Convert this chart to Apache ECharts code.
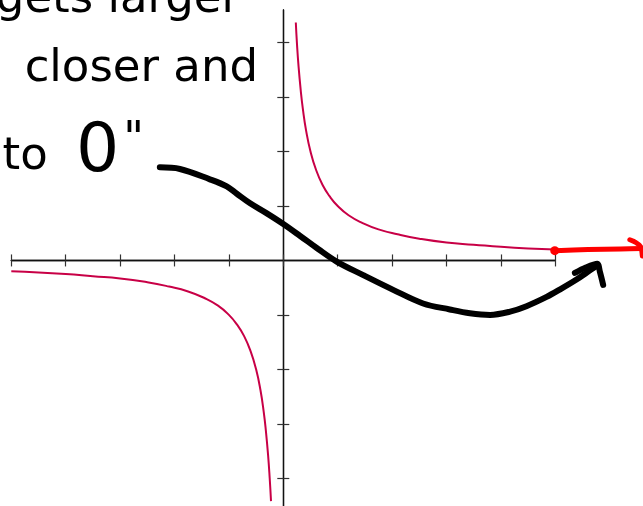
<!DOCTYPE html>
<html>
<head>
<meta charset="utf-8">
<script src="https://cdn.jsdelivr.net/npm/echarts@6/dist/echarts.min.js"></script>
<style>
  html, body { margin: 0; padding: 0; background: #fff; }
  #chart { width: 643px; height: 506px; }
</style>
</head>
<body>
<div id="chart"></div>
<script>
// Axis ticks
const xTicks = [-5, -4, -3, -2, -1, 0, 1, 2, 3, 4, 5];
const yTicks = [-4, -3, -2, -1, 1, 2, 3, 4];

// y = 1/x, right branch
const rightX = [0.23, 0.25, 0.28, 0.32, 0.36, 0.42, 0.5, 0.6, 0.72, 0.85, 1.0, 1.2, 1.45, 1.75, 2.1, 2.5, 3.0, 3.5, 4.0, 4.5, 5.0];
const rightY = [4.37, 4.0, 3.57, 3.13, 2.78, 2.38, 2.0, 1.67, 1.39, 1.18, 1.0, 0.83, 0.69, 0.57, 0.48, 0.4, 0.33, 0.29, 0.25, 0.22, 0.2];

// y = 1/x, left branch
const leftX = [-5.0, -4.5, -4.0, -3.5, -3.0, -2.5, -2.1, -1.75, -1.45, -1.2, -1.0, -0.85, -0.72, -0.6, -0.5, -0.42, -0.36, -0.32, -0.28, -0.25, -0.226];
const leftY = [-0.2, -0.22, -0.25, -0.29, -0.33, -0.4, -0.48, -0.57, -0.69, -0.83, -1.0, -1.18, -1.39, -1.67, -2.0, -2.38, -2.78, -3.13, -3.57, -4.0, -4.42];

// Hand-drawn sweep with arrow
const sweepX = [-2.27, -1.9, -1.35, -1.04, -0.86, -0.61, -0.31, 0.0, 0.31, 0.64, 0.98, 1.47, 2.02, 2.57, 3.06, 3.43, 3.8, 4.17, 4.47, 4.84, 5.09, 5.39, 5.58, 5.76];
const sweepY = [1.71, 1.68, 1.49, 1.36, 1.23, 1.05, 0.87, 0.67, 0.45, 0.21, -0.02, -0.27, -0.54, -0.79, -0.9, -0.97, -1.0, -0.94, -0.84, -0.67, -0.53, -0.35, -0.22, -0.1];
const sweepHeadX = [5.36, 5.56, 5.77, 5.82, 5.88];
const sweepHeadY = [-0.23, -0.13, -0.06, -0.21, -0.45];

// Red arrow along the x-axis
const redX = [4.99, 5.6, 6.2, 6.58];
const redY = [0.18, 0.2, 0.21, 0.22];
const redHeadX = [6.37, 6.48, 6.57, 6.6];
const redHeadY = [0.38, 0.33, 0.25, 0.08];

const zip = (xs, ys) => xs.map((x, i) => [x, ys[i]]);

const axisLine = { onZero: true, lineStyle: { color: '#111', width: 1.3 } };
const tickStyle = { color: '#333', width: 1.2 };

function mainAxis(pos, min, max, ticks) {
  return {
    type: 'value', min: min, max: max, position: pos, gridIndex: 0,
    axisLine: axisLine,
    axisTick: { show: true, length: 6, lineStyle: tickStyle, customValues: ticks },
    axisLabel: { show: false }, splitLine: { show: false }
  };
}
function hiddenAxis(min, max) {
  return {
    type: 'value', min: min, max: max, gridIndex: 1, show: false,
    axisLine: { show: false }, axisTick: { show: false },
    axisLabel: { show: false }, splitLine: { show: false }
  };
}

const chart = echarts.init(document.getElementById('chart'), null, { renderer: 'canvas' });

chart.setOption({
  animation: false,
  backgroundColor: '#fff',
  grid: [
    { left: 11.3, right: 87.7, top: 10, bottom: 0, containLabel: false },
    // same scale, stretched to the right edge for the annotations
    { left: 11.3, right: 0, top: 10, bottom: 0, containLabel: false }
  ],
  xAxis: [
    mainAxis('bottom', -5, 5, xTicks),
    mainAxis('top', -5, 5, xTicks),
    hiddenAxis(-5, 6.612)
  ],
  yAxis: [
    mainAxis('left', -4.51, 4.6, yTicks),
    mainAxis('right', -4.51, 4.6, yTicks),
    hiddenAxis(-4.51, 4.6)
  ],
  series: [
    {
      type: 'line', data: zip(rightX, rightY), smooth: 0.5,
      showSymbol: false, lineStyle: { color: '#c80046', width: 2 }
    },
    {
      type: 'line', data: zip(leftX, leftY), smooth: 0.5,
      showSymbol: false, lineStyle: { color: '#c80046', width: 2 }
    },
    {
      type: 'line', xAxisIndex: 2, yAxisIndex: 2, data: zip(sweepX, sweepY), smooth: 0.35,
      showSymbol: false,
      lineStyle: { color: '#000', width: 6, cap: 'round', join: 'round' }
    },
    {
      type: 'line', xAxisIndex: 2, yAxisIndex: 2, data: zip(sweepHeadX, sweepHeadY), smooth: 0.3,
      showSymbol: false,
      lineStyle: { color: '#000', width: 6, cap: 'round', join: 'round' }
    },
    {
      type: 'line', xAxisIndex: 2, yAxisIndex: 2, data: zip(redX, redY), smooth: 0.3,
      symbol: 'none',
      lineStyle: { color: '#f00', width: 5, cap: 'round', join: 'round' },
      markPoint: {
        symbol: 'circle', symbolSize: 9, itemStyle: { color: '#f00' }, label: { show: false },
        data: [{ coord: [redX[0], redY[0]] }]
      }
    },
    {
      type: 'line', xAxisIndex: 2, yAxisIndex: 2, data: zip(redHeadX, redHeadY), smooth: 0.3,
      showSymbol: false,
      lineStyle: { color: '#f00', width: 5, cap: 'round', join: 'round' }
    }
  ],
  graphic: [
    {
      type: 'text', x: 240, y: 0,
      style: { text: 'gets larger', font: '45px "DejaVu Sans"', fill: '#000', align: 'right', verticalAlign: 'middle' }
    },
    {
      type: 'text', x: 258, y: 69,
      style: { text: 'closer and', font: '45px "DejaVu Sans"', fill: '#000', align: 'right', verticalAlign: 'middle' }
    },
    {
      type: 'text', x: 144, y: 153,
      style: {
        text: '{a|to }{b|0}{q|"}',
        align: 'right', verticalAlign: 'middle',
        rich: {
          a: { font: '45px "DejaVu Sans"', fill: '#000', verticalAlign: 'bottom', padding: [0, 8, 7, 0] },
          b: { font: '68px "DejaVu Sans"', fill: '#000', verticalAlign: 'bottom', padding: [0, 4, 0, 6] },
          q: { font: '45px "DejaVu Sans"', fill: '#000', verticalAlign: 'top', lineHeight: 24 }
        }
      }
    }
  ]
});
</script>
</body>
</html>
